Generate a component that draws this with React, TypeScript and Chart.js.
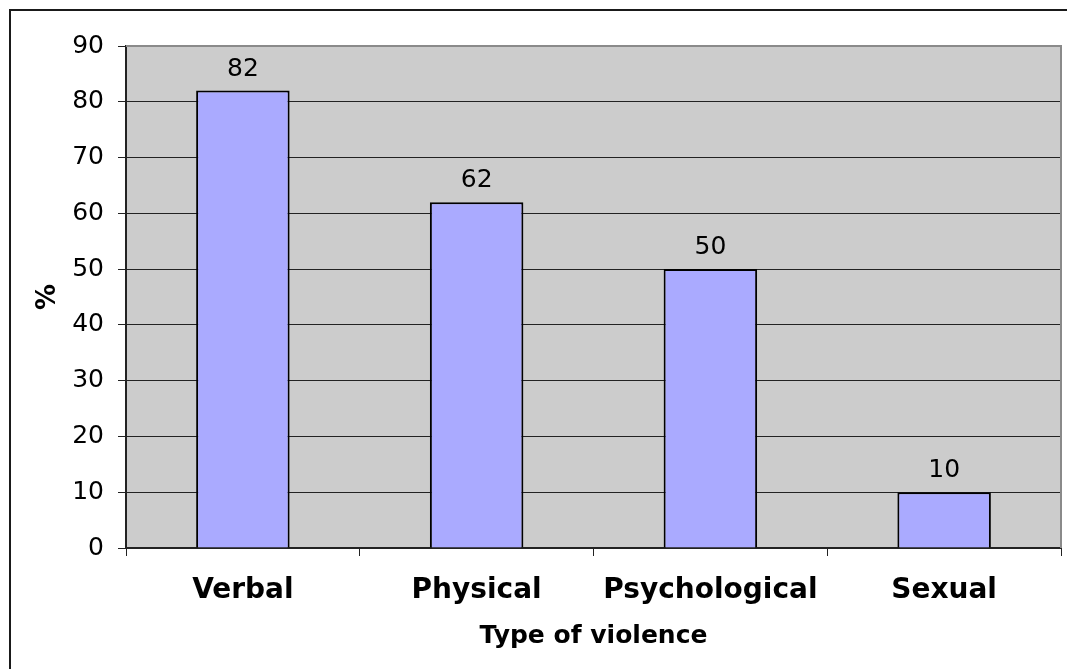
import React, { useEffect, useRef } from "react";
import { Chart, registerables } from "chart.js";

Chart.register(...registerables);

const categories: string[] = ["Verbal", "Physical", "Psychological", "Sexual"];
const percentages: number[] = [82, 62, 50, 10];
const yTicks: number[] = [0, 10, 20, 30, 40, 50, 60, 70, 80, 90];
const yAxisTitle = "%";
const xAxisTitle = "Type of violence";

const FONT = "'DejaVu Sans', Verdana, sans-serif";
const W = 1067;
const H = 669;

// Frame, grey plot background and bar value labels
const framePlugin = {
  id: "frame",
  beforeDraw(chart: any) {
    const { ctx, chartArea } = chart;
    ctx.save();
    ctx.fillStyle = "#ffffff";
    ctx.fillRect(0, 0, W, H);
    ctx.strokeStyle = "#1a1a1a";
    ctx.lineWidth = 2;
    ctx.strokeRect(10, 10, W + 20, H + 20);
    ctx.fillStyle = "#cccccc";
    ctx.fillRect(chartArea.left, chartArea.top, chartArea.right - chartArea.left, chartArea.bottom - chartArea.top);
    ctx.restore();
  },
  afterDraw(chart: any) {
    const { ctx, chartArea } = chart;
    ctx.save();
    ctx.strokeStyle = "#8a8a8a";
    ctx.lineWidth = 2;
    ctx.beginPath();
    ctx.moveTo(chartArea.left, chartArea.top);
    ctx.lineTo(chartArea.right, chartArea.top);
    ctx.lineTo(chartArea.right, chartArea.bottom);
    ctx.stroke();
    ctx.restore();
  },
  afterDatasetsDraw(chart: any) {
    const { ctx } = chart;
    const meta = chart.getDatasetMeta(0);
    ctx.save();
    ctx.fillStyle = "#000";
    ctx.font = `25px ${FONT}`;
    ctx.textAlign = "center";
    ctx.textBaseline = "alphabetic";
    meta.data.forEach((bar: any, i: number) => {
      ctx.fillText(String(percentages[i]), bar.x, bar.y - 15);
    });
    ctx.restore();
  },
};

export default function App() {
  const canvasRef = useRef<HTMLCanvasElement | null>(null);

  useEffect(() => {
    if (!canvasRef.current) return;
    const chart = new Chart(canvasRef.current, {
      type: "bar",
      data: {
        labels: categories,
        datasets: [
          {
            data: percentages,
            backgroundColor: "#aaaaff",
            borderColor: "#000000",
            borderWidth: 2,
            barPercentage: 0.4,
            categoryPercentage: 1,
          },
        ],
      },
      options: {
        responsive: false,
        animation: false,
        devicePixelRatio: 1,
        layout: { padding: { top: 46, right: 6, left: 0, bottom: 0 } },
        plugins: {
          legend: { display: false },
          tooltip: { enabled: false },
        },
        scales: {
          x: {
            afterFit: (scale: any) => {
              scale.height = 121;
            },
            grid: {
              display: true,
              drawOnChartArea: false,
              drawTicks: true,
              tickLength: 8,
              offset: true,
              color: "#222",
            },
            border: { display: true, color: "#222", width: 2 },
            ticks: {
              color: "#000",
              font: { family: FONT, size: 28, weight: "bold" },
              padding: 18,
              maxRotation: 0,
              autoSkip: false,
            },
            title: {
              display: true,
              text: xAxisTitle,
              color: "#000",
              font: { family: FONT, size: 25, weight: "bold" },
              padding: { top: 0, bottom: 18 },
            },
          },
          y: {
            min: yTicks[0],
            max: yTicks[yTicks.length - 1],
            afterFit: (scale: any) => {
              scale.width = 126;
            },
            afterBuildTicks: (scale: any) => {
              scale.ticks = yTicks.map((v) => ({ value: v }));
            },
            grid: {
              color: (c: any) => (c.tick && c.tick.value === 90 ? "#8a8a8a" : "#222"),
              lineWidth: 1,
              tickLength: 8,
              tickColor: "#222",
            },
            border: { display: true, color: "#222", width: 2 },
            ticks: {
              color: "#000",
              font: { family: FONT, size: 25 },
              padding: 14,
            },
            title: {
              display: true,
              text: yAxisTitle,
              color: "#000",
              font: { family: FONT, size: 26, weight: "bold" },
              padding: { top: 33, bottom: 0 },
            },
          },
        },
      },
      plugins: [framePlugin],
    });
    return () => chart.destroy();
  }, []);

  return (
    <div style={{ position: "fixed", left: 0, top: 0, width: W, height: H, background: "#fff" }}>
      <canvas ref={canvasRef} width={W} height={H} style={{ display: "block", width: W, height: H }} />
    </div>
  );
}
